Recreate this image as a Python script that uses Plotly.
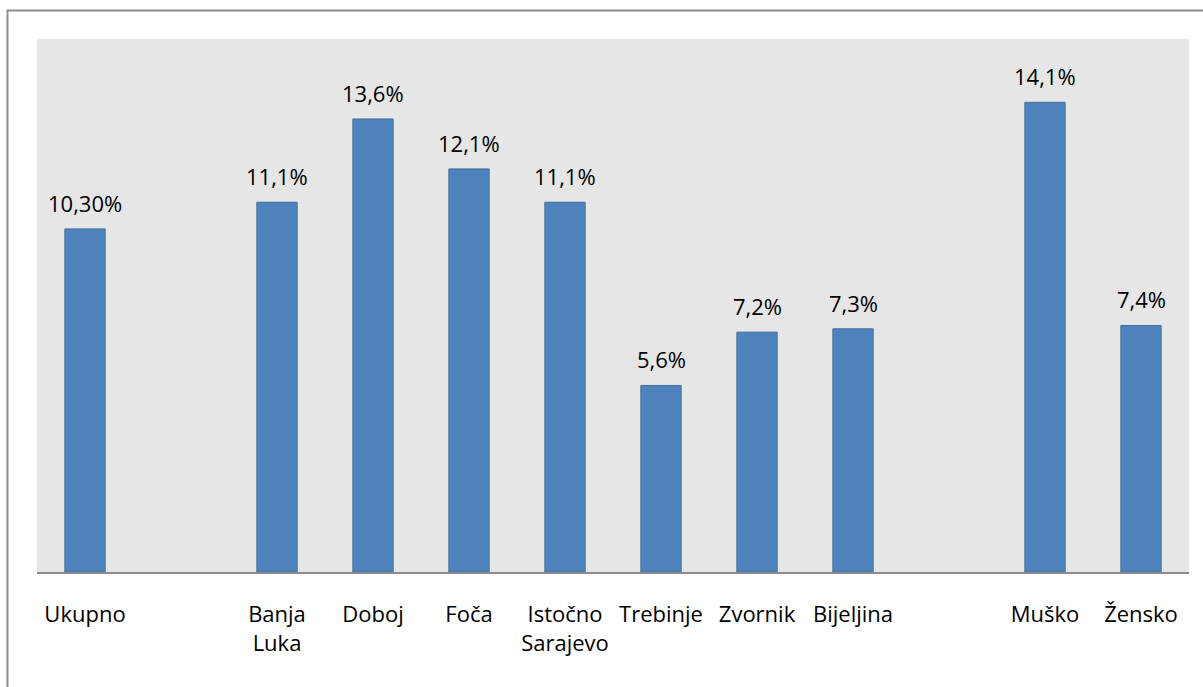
import plotly.graph_objects as go

categories = ["Ukupno", " ", "Banja<br>Luka", "Doboj", "Foča", "Istočno<br>Sarajevo",
              "Trebinje", "Zvornik", "Bijeljina", "  ", "Muško", "Žensko"]
values = [10.3, None, 11.1, 13.6, 12.1, 11.1, 5.6, 7.2, 7.3, None, 14.1, 7.4]
labels = ["10,30%", "", "11,1%", "13,6%", "12,1%", "11,1%", "5,6%", "7,2%", "7,3%", "", "14,1%", "7,4%"]

W, H = 1203, 687
ml, mr, mt, mb = 37, 14, 39, 115
pw, ph = W - ml - mr, H - mt - mb
FONT = "Open Sans"

fig = go.Figure(go.Bar(
    x=categories, y=values,
    marker=dict(color="#4F81BD", line=dict(color="#41719C", width=1)),
    width=0.42,
))

for c, v, t in zip(categories, values, labels):
    if v is None:
        continue
    fig.add_annotation(x=c, y=v, text=t, showarrow=False, yanchor="bottom",
                       yshift=9, font=dict(size=22, color="black", family=FONT))

fig.update_layout(
    width=W, height=H,
    margin=dict(l=ml, r=mr, t=mt, b=mb),
    paper_bgcolor="white", plot_bgcolor="#E6E6E6",
    showlegend=False,
    font=dict(family=FONT, size=22, color="black"),
    xaxis=dict(type="category", showgrid=False, showline=True, linecolor="#8C8C8C",
               linewidth=2, ticks="", ticklabelstandoff=22,
               tickfont=dict(size=22, family=FONT, color="black")),
    yaxis=dict(range=[0, 16], showgrid=False, showticklabels=False, zeroline=False,
               showline=False, ticks=""),
    shapes=[dict(type="rect", xref="paper", yref="paper",
                 x0=(7.5 - ml) / pw, x1=(W + 10 - ml) / pw,
                 y0=-(H + 10 - mt - ph) / ph, y1=1 + (mt - 10.5) / ph,
                 line=dict(color="#8C8C8C", width=2), layer="below")],
)

fig.write_html("out.html", config={"displayModeBar": False},
               post_script="document.body.style.margin='0';document.body.style.overflow='hidden';")
